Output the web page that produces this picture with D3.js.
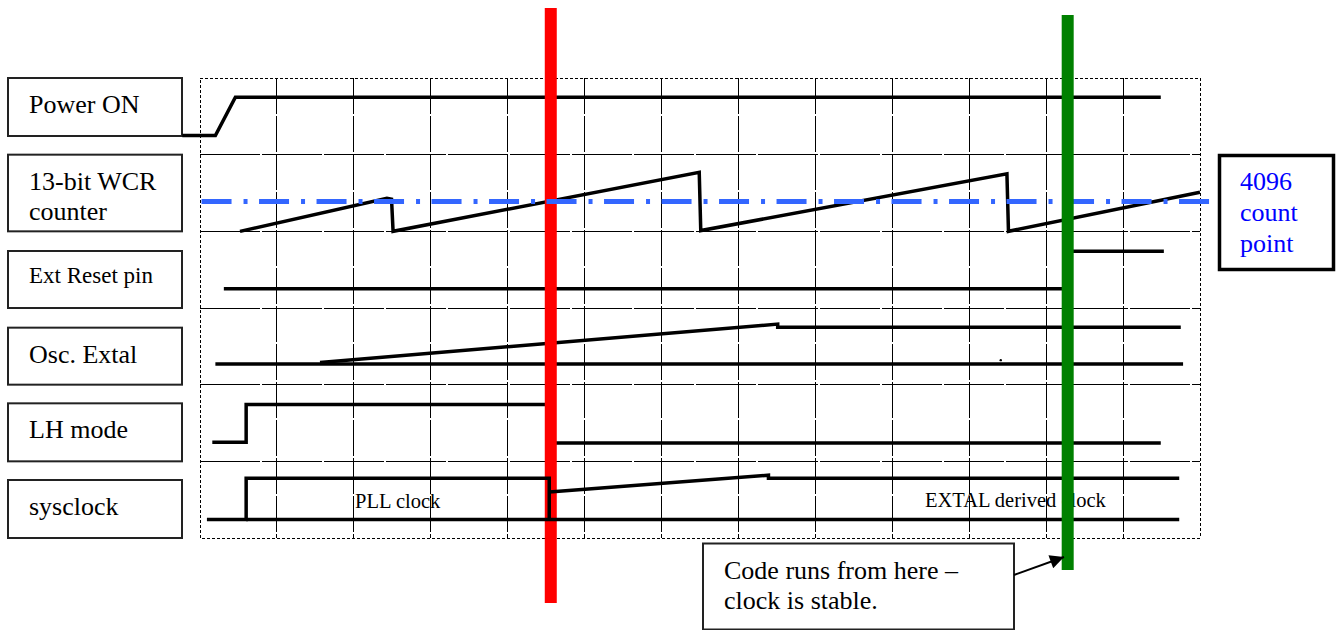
<!DOCTYPE html>
<html>
<head>
<meta charset="utf-8">
<script src="https://cdn.jsdelivr.net/npm/d3@7"></script>
<style>
  body { margin: 0; background: #fff; }
  svg { display: block; }
  svg text { font-family: "Liberation Serif", "Times New Roman", serif; }
</style>
</head>
<body>
<div id="viz"></div>
<script>
// rows of the timing diagram (top to bottom)
const rowLabels = [["Power ON"], ["13-bit WCR", "counter"], ["Ext Reset pin"], ["Osc. Extal"], ["LH mode"], ["sysclock"]];

// grid divisions on the time axis
const timeTicks = [0, 1, 2, 3, 4, 5, 6, 7, 8, 9, 10, 11, 12, 13];

// traces: [time in grid divisions, level inside the row (0 = row bottom, 1 = row top)]
const powerOn = [[-0.23, 0.25], [0.2, 0.25], [0.46, 0.75], [12.49, 0.75]];
const wcrCounter = [[0.52, 0], [2.43, 0.43], [2.49, 0.42], [2.51, 0], [6.49, 0.77], [6.51, 0.01],
                    [10.49, 0.75], [10.51, 0], [13, 0.51]];
const wcrThreshold = [[0.02, 0.39], [13.16, 0.39]];   // "4096 count point"
const extReset = [[0.31, 0.25], [11.27, 0.25], [11.27, 0.74], [12.53, 0.74]];
const oscBase = [[0.2, 0.27], [12.78, 0.27]];
const oscRamp = [[1.56, 0.29], [7.51, 0.79], [7.51, 0.75], [12.75, 0.75]];
const oscDot = [[10.41, 0.32]];
const lhMode = [[0.16, 0.25], [0.6, 0.25], [0.6, 0.74], [4.57, 0.74], [4.57, 0.24], [12.49, 0.24]];
const sysPll = [[0.09, 0.24], [0.6, 0.24], [0.6, 0.78], [4.54, 0.78], [4.54, 0.24]];
const sysBase = [[0.6, 0.24], [12.73, 0.24]];
const sysExtal = [[4.54, 0.6], [7.39, 0.82], [7.39, 0.78], [12.73, 0.78]];

// marker times (red = switch, green = stable)
const markerTimes = [4.56, 11.28];

const width = 1336, height = 630;

var svg = d3.select('#viz')
  .append('svg')
  .attr('width', width)
  .attr('height', height);

// scales
var x = d3.scaleLinear().domain([0, 13]).range([200, 1200]);
var rowY = d3.scaleLinear().domain([0, 6]).range([78, 538]);
var rowH = rowY(1) - rowY(0);

// level scale for one row
function levelScale(i) {
  return d3.scaleLinear().domain([0, 1]).range([rowY(i + 1), rowY(i)]);
}

// grid
var grid = svg.append("g").attr("stroke", "#000").attr("stroke-width", 1).attr("shape-rendering", "crispEdges");
grid.selectAll("line.v")
  .data(timeTicks.slice(1, -1))
  .join("line")
  .attr("x1", d => x(d)).attr("x2", d => x(d))
  .attr("y1", rowY(0)).attr("y2", rowY(6))
  .attr("stroke-dasharray", "36,2");
grid.selectAll("line.h")
  .data(d3.range(1, 6))
  .join("line")
  .attr("x1", x(0)).attr("x2", x(13))
  .attr("y1", d => rowY(d)).attr("y2", d => rowY(d))
  .attr("stroke-dasharray", "60,2");
grid.append("rect")
  .attr("x", x(0)).attr("y", rowY(0))
  .attr("width", x(13) - x(0)).attr("height", rowY(6) - rowY(0))
  .attr("fill", "none")
  .attr("stroke-dasharray", "3,2");

// label boxes
var boxTop = [0, 0, rowH - 57, rowH - 57, rowH - 58, rowH - 58];
var boxH = [58, rowH, 57, 57, 58, 58];
var labels = svg.append("g");
labels.selectAll("rect")
  .data(rowLabels)
  .join("rect")
  .attr("x", 8)
  .attr("y", (d, i) => rowY(i) + boxTop[i])
  .attr("width", 174)
  .attr("height", (d, i) => boxH[i])
  .attr("fill", "#fff")
  .attr("stroke", "#222")
  .attr("stroke-width", 2);
labels.selectAll("text")
  .data(rowLabels)
  .join("text")
  .attr("x", 29)
  .attr("y", (d, i) => rowY(i) + boxTop[i] + (i == 2 ? 32 : 35))
  .attr("font-size", (d, i) => i == 2 ? 23 : 26)
  .attr("fill", "#000")
  .selectAll("tspan")
  .data(d => d)
  .join("tspan")
  .attr("x", 29)
  .attr("dy", (d, j) => j == 0 ? 0 : 30)
  .text(d => d);

// trace drawing helper
function trace(g, pts, row, w) {
  var y = levelScale(row);
  g.append("path")
    .attr("d", d3.line().x(d => x(d[0])).y(d => y(d[1]))(pts))
    .attr("fill", "none")
    .attr("stroke", "#000")
    .attr("stroke-width", w || 3.5)
    .attr("stroke-linejoin", "miter");
}

var traces = svg.append("g");
trace(traces, powerOn, 0);
trace(traces, wcrCounter, 1);
trace(traces, extReset, 2);
trace(traces, oscBase, 3);
trace(traces, oscRamp, 3);
trace(traces, lhMode, 4);

traces.selectAll("circle")
  .data(oscDot)
  .join("circle")
  .attr("cx", d => x(d[0]))
  .attr("cy", d => levelScale(3)(d[1]))
  .attr("r", 1.2)
  .attr("fill", "#000");

// red marker
svg.append("rect")
  .attr("x", x(markerTimes[0]) - 6)
  .attr("y", 8)
  .attr("width", 12)
  .attr("height", 595)
  .attr("fill", "#ff0000");

// sysclock row (drawn over the red marker)
var sys = svg.append("g");
trace(sys, sysPll, 5);
trace(sys, sysBase, 5);
trace(sys, sysExtal, 5);
sys.append("text")
  .attr("x", x(2.57)).attr("y", 508)
  .attr("text-anchor", "middle")
  .attr("font-size", 20.5)
  .text("PLL clock");
sys.append("text")
  .attr("x", x(10.6)).attr("y", 507)
  .attr("text-anchor", "middle")
  .attr("font-size", 20.5)
  .text("EXTAL derived clock");

// 4096 threshold line (dash dot)
var yw = levelScale(1);
svg.append("path")
  .attr("d", d3.line().x(d => x(d[0])).y(d => yw(d[1]))(wcrThreshold))
  .attr("stroke", "#3366ff")
  .attr("stroke-width", 5)
  .attr("fill", "none")
  .attr("stroke-dasharray", "30,12,4,11.5");

// green marker
svg.append("rect")
  .attr("x", x(markerTimes[1]) - 6)
  .attr("y", 15)
  .attr("width", 12)
  .attr("height", 555)
  .attr("fill", "#008000");

// 4096 count point callout
svg.append("rect")
  .attr("x", 1219.5).attr("y", 155.5)
  .attr("width", 114).attr("height", 114)
  .attr("fill", "#fff")
  .attr("stroke", "#000")
  .attr("stroke-width", 3.5);
svg.append("text")
  .attr("font-size", 26)
  .attr("fill", "#0000ff")
  .selectAll("tspan")
  .data(["4096", "count", "point"])
  .join("tspan")
  .attr("x", 1240)
  .attr("y", (d, i) => 190 + i * 31)
  .text(d => d);

// code-runs callout
svg.append("rect")
  .attr("x", 703).attr("y", 543.5)
  .attr("width", 311).attr("height", 86)
  .attr("fill", "#fff")
  .attr("stroke", "#222")
  .attr("stroke-width", 2);
svg.append("text")
  .attr("font-size", 26)
  .attr("fill", "#000")
  .selectAll("tspan")
  .data(["Code runs from here \u2013", "clock is stable."])
  .join("tspan")
  .attr("x", 724)
  .attr("y", (d, i) => 579 + i * 30)
  .text(d => d);

svg.append("defs").append("marker")
  .attr("id", "arrow")
  .attr("viewBox", "0 0 10 10")
  .attr("refX", 10).attr("refY", 5)
  .attr("markerWidth", 9).attr("markerHeight", 7)
  .attr("markerUnits", "strokeWidth")
  .attr("orient", "auto")
  .append("path")
  .attr("d", "M0,0 L10,5 L0,10 Z")
  .attr("fill", "#000");
svg.append("line")
  .attr("x1", 1014).attr("y1", 575)
  .attr("x2", 1064).attr("y2", 557)
  .attr("stroke", "#000")
  .attr("stroke-width", 2)
  .attr("marker-end", "url(#arrow)");
</script>
</body>
</html>
